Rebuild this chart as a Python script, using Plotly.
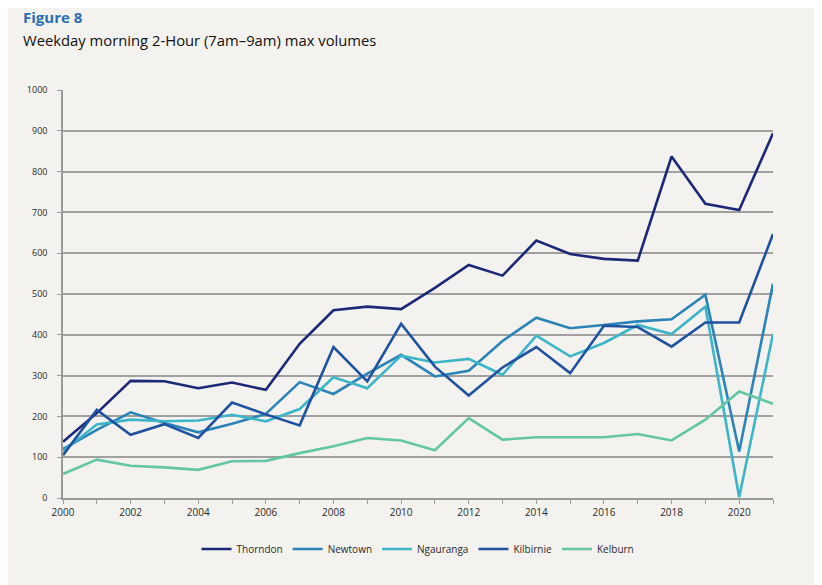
import plotly.graph_objects as go

years = list(range(2000, 2022))
thorndon = [138, 208, 287, 286, 269, 283, 265, 378, 460, 469, 463, 515, 571, 545, 631, 598, 586, 582, 837, 721, 706, 894]
newtown = [120, 167, 210, 184, 161, 182, 206, 284, 255, 305, 351, 298, 312, 385, 442, 416, 424, 433, 438, 498, 114, 525]
ngauranga = [115, 180, 192, 188, 190, 204, 188, 218, 296, 269, 349, 332, 341, 302, 398, 347, 380, 424, 402, 469, 2, 402]
kilbirnie = [105, 216, 155, 181, 147, 234, 205, 178, 370, 286, 427, 322, 251, 320, 370, 306, 422, 419, 371, 430, 430, 647]
kelburn = [59, 94, 79, 75, 69, 90, 91, 110, 127, 147, 141, 117, 196, 143, 149, 149, 149, 157, 141, 192, 261, 231]

series = [
    ("Thorndon", thorndon, "#1c2878"),
    ("Newtown", newtown, "#2a84b8"),
    ("Ngauranga", ngauranga, "#3db5c9"),
    ("Kilbirnie", kilbirnie, "#1f52a0"),
    ("Kelburn", kelburn, "#62c7a2"),
]

fig = go.Figure()
for name, vals, col in series:
    fig.add_trace(go.Scatter(x=years, y=vals, name=name, mode="lines",
                             line=dict(color=col, width=2.6)))

bg = "#f3f2ee"
fig.update_layout(
    width=822, height=585,
    paper_bgcolor=bg, plot_bgcolor=bg,
    margin=dict(l=55, r=57, t=82, b=95),
    font=dict(family="Open Sans, Noto Sans, sans-serif", size=10, color="#333333"),
    showlegend=True,
    legend=dict(orientation="h", x=0.5, xanchor="center", y=-0.125, yanchor="middle",
                font=dict(size=10, color="#2a2a2a"), bgcolor="rgba(0,0,0,0)",
                itemwidth=30),
    annotations=[
        dict(text="<b>Figure 8</b>", xref="paper", yref="paper", x=0, y=1,
             xshift=-42, yshift=73, xanchor="left", yanchor="middle", showarrow=False,
             font=dict(size=15, color="#2a6db2", family="Open Sans, sans-serif")),
        dict(text="Weekday morning 2-Hour (7am\u20139am) max volumes", xref="paper", yref="paper",
             x=0, y=1, xshift=-42, yshift=50, xanchor="left", yanchor="middle", showarrow=False,
             font=dict(size=14.8, color="#111111", family="Open Sans, sans-serif")),
    ],
)
fig.update_xaxes(range=[2000, 2021], tickmode="linear", tick0=2000, dtick=2,
                 showgrid=False, showline=True, linecolor="#9a9a9a", linewidth=1.5,
                 ticks="outside", ticklen=4, tickcolor="#9a9a9a",
                 minor=dict(dtick=1, tick0=2000, ticks="outside", ticklen=4, tickcolor="#9a9a9a"),
                 tickfont=dict(size=10, color="#2a2a2a"), zeroline=False)
fig.update_yaxes(range=[0, 1000], tickmode="linear", tick0=0, dtick=100,
                 showgrid=True, gridcolor="#a0a0a0", gridwidth=1.5,
                 showline=True, linecolor="#9a9a9a", linewidth=1.5,
                 ticks="outside", ticklen=4, tickcolor="#9a9a9a",
                 ticklabelstandoff=8,
                 tickfont=dict(size=9, color="#2a2a2a"), zeroline=False)

fig.write_html("out.html")
